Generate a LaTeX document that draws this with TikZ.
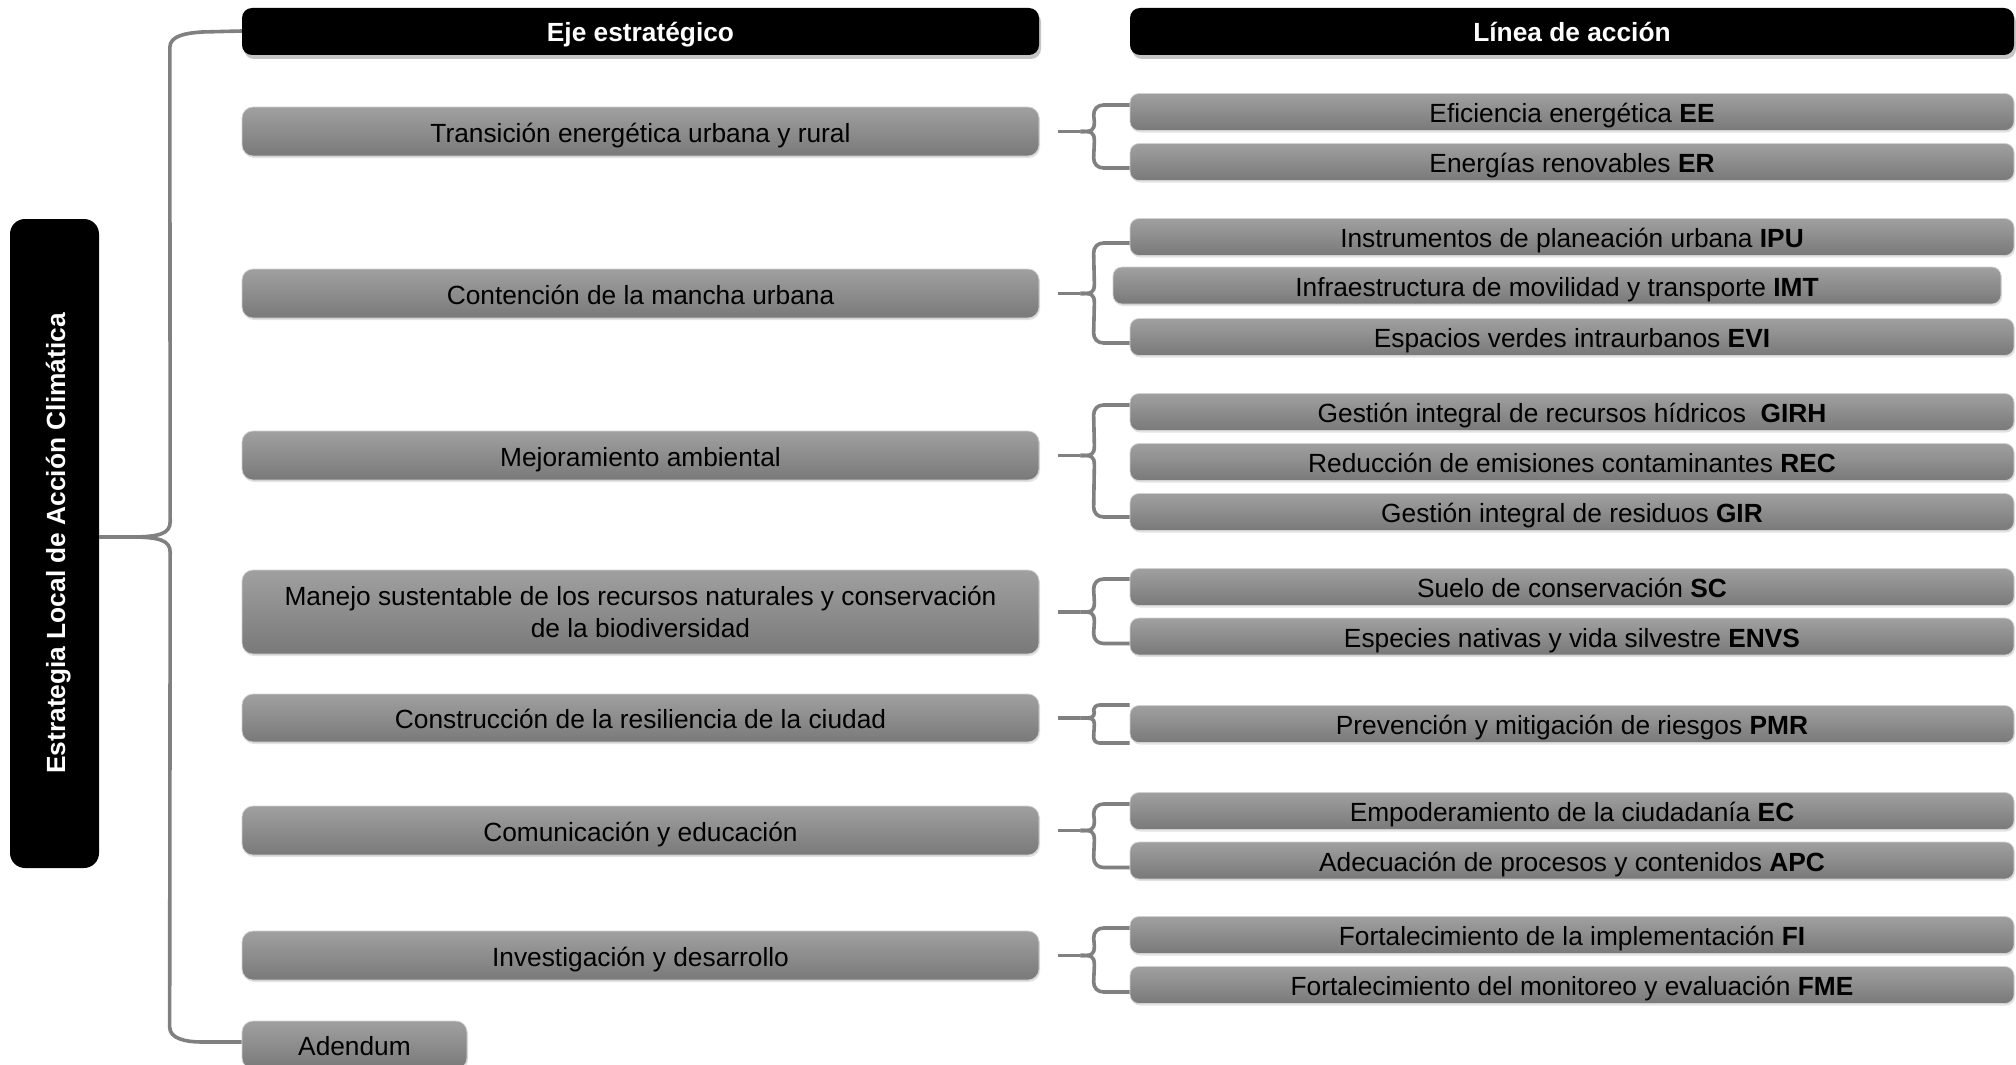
\documentclass[tikz,border=0pt]{standalone}
\usepackage{fontspec}
\setmainfont{Liberation Sans}
\usetikzlibrary{calc,shadows}
\definecolor{boxtop}{RGB}{160,160,160}
\definecolor{boxbot}{RGB}{121,121,121}
\definecolor{linkgray}{RGB}{128,128,128}
\tikzset{
  txtbase/.style={font=\fontsize{26.3}{32}\selectfont, inner sep=0pt, align=center},
  oneline/.style={text height=27pt, text depth=6pt},
  ejebox/.style={txtbase, rectangle, rounded corners=11pt, top color=boxtop, bottom color=boxbot,
     draw=white!82!black, line width=0.7pt, minimum width=797pt, minimum height=49pt,
     drop shadow={shadow xshift=1pt, shadow yshift=-2pt, opacity=0.22}},
  ejeone/.style={ejebox, oneline},
  linebox/.style={ejebox, oneline, rounded corners=9pt, minimum width=884pt, minimum height=37pt},
  headbox/.style={txtbase, text height=26pt, text depth=6pt, rectangle, rounded corners=10pt, fill=black, text=white,
     font=\bfseries\fontsize{26.3}{32}\selectfont, minimum height=47pt,
     drop shadow={shadow xshift=2pt, shadow yshift=-4pt, opacity=0.45}},
  leftbox/.style={rectangle, rounded corners=15pt, fill=black, minimum width=89pt, minimum height=649pt, inner sep=0pt},
  bracketln/.style={draw=linkgray, line width=3.6pt, line join=round}
}
% #1 eje node, #2 top line node, #3 top offset, #4 bottom line node, #5 bottom offset, #6 corner size
\newcommand{\gbrace}[6]{%
  \coordinate (bS) at ($(#1.east)+(19,0)$);
  \coordinate (bT) at ($(#1.east)+(41,0)$);
  \coordinate (bU) at ($(#2.west)+(0,#3)$);
  \coordinate (bD) at ($(#4.west)+(0,#5)$);
  \draw[bracketln] (bS) -- (bT);
  \draw[bracketln] (bT) .. controls +(11,0) and +(0,#6) .. ($(bT)+(14,-#6)$)
     -- ($(bU)+(-36,#6)$) .. controls +(0,-#6*0.6) and +(-#6*0.6,0) .. ($(bU)+(-36+#6,0)$) -- (bU);
  \draw[bracketln] (bT) .. controls +(11,0) and +(0,-#6) .. ($(bT)+(14,#6)$)
     -- ($(bD)+(-36,-#6)$) .. controls +(0,#6*0.6) and +(-#6*0.6,0) .. ($(bD)+(-36+#6,0)$) -- (bD);
}
\begin{document}
\begin{tikzpicture}[x=1pt,y=-1pt]
\useasboundingbox[fill=white] (0,0) rectangle (2016,1065);

% headers
\node[headbox, minimum width=797pt] (h1) at (640.5,31.5) {Eje estratégico};
\node[headbox, minimum width=884pt] (h2) at (1572,31.5) {Línea de acción};

% left box
\node[leftbox] (L) at (54.5,543.5) {};
\node[rotate=90, text=white, inner sep=0pt, text height=27pt, text depth=6pt, font=\bfseries\fontsize{26.3}{32}\selectfont] (Lt) at (L.center) {Estrategia Local de Acción Climática};

% eje boxes
\node[ejeone] (e1) at (640.5,131.5) {Transición energética urbana y rural};
\node[ejeone] (e2) at (640.5,293.5) {Contención de la mancha urbana};
\node[ejeone] (e3) at (640.5,455.5) {Mejoramiento ambiental};
\node[ejebox, minimum height=84pt] (e4) at (640.5,612) {Manejo sustentable de los recursos naturales y conservación\\de la biodiversidad};
\node[ejeone, minimum height=48pt] (e5) at (640.5,718) {Construcción de la resiliencia de la ciudad};
\node[ejeone] (e6) at (640.5,830.5) {Comunicación y educación};
\node[ejeone] (e7) at (640.5,955.5) {Investigación y desarrollo};
\node[ejeone, minimum width=225pt, minimum height=48pt] (ad) at (354.5,1045) {Adendum};

% line boxes
\node[linebox] (EE) at (1572,112) {Eficiencia energética \textbf{EE}};
\node[linebox] (ER) at (1572,162) {Energías renovables \textbf{ER}};
\node[linebox] (IPU) at (1572,237) {Instrumentos de planeación urbana \textbf{IPU}};
\node[linebox, minimum width=888pt] (IMT) at (1557,285.5) {Infraestructura de movilidad y transporte \textbf{IMT}};
\node[linebox] (EVI) at (1572,337) {Espacios verdes intraurbanos \textbf{EVI}};
\node[linebox] (GIRH) at (1572,412) {Gestión integral de recursos hídricos~ \textbf{GIRH}};
\node[linebox] (REC) at (1572,462) {Reducción de emisiones contaminantes \textbf{REC}};
\node[linebox] (GIR) at (1572,512) {Gestión integral de residuos \textbf{GIR}};
\node[linebox] (SC) at (1572,587) {Suelo de conservación \textbf{SC}};
\node[linebox] (ENVS) at (1572,636.5) {Especies nativas y vida silvestre \textbf{ENVS}};
\node[linebox] (PMR) at (1572,724) {Prevención y mitigación de riesgos \textbf{PMR}};
\node[linebox] (EC) at (1572,811) {Empoderamiento de la ciudadanía \textbf{EC}};
\node[linebox] (APC) at (1572,860.5) {Adecuación de procesos y contenidos \textbf{APC}};
\node[linebox] (FI) at (1572,935) {Fortalecimiento de la implementación \textbf{FI}};
\node[linebox] (FME) at (1572,985) {Fortalecimiento del monitoreo y evaluación \textbf{FME}};

% group braces
\gbrace{e1}{EE}{-7}{ER}{6}{10}
\gbrace{e2}{IPU}{6}{EVI}{6}{10}
\gbrace{e3}{GIRH}{-7}{GIR}{5}{10}
\gbrace{e4}{SC}{-8}{ENVS}{7}{10}
\gbrace{e5}{PMR}{-19}{PMR}{19}{6}
\gbrace{e6}{EC}{-7}{APC}{7}{10}
\gbrace{e7}{FI}{-7}{FME}{7}{10}

% main bracket
\draw[bracketln] ($(L.east)+(0,-6.5)$) -- ($(L.east)+(31,-6.5)$)
   .. controls +(30,0) and +(0,12) .. ($(L.east)+(71,-22)$)
   -- ($(h1.west)+(-72,16)$)
   .. controls +(0,-12) and +(-15,1) .. ($(h1.west)+(-40,0.5)$) -- ($(h1.west)+(0,-0.5)$);
\draw[bracketln] ($(L.east)+(31,-6.5)$)
   .. controls +(30,0) and +(0,-12) .. ($(L.east)+(71,9)$)
   -- ($(ad.west)+(-72,-18)$)
   .. controls +(0,12) and +(-15,0) .. ($(ad.west)+(-40,-3)$) -- ($(ad.west)+(0,-3)$);
\end{tikzpicture}
\end{document}
